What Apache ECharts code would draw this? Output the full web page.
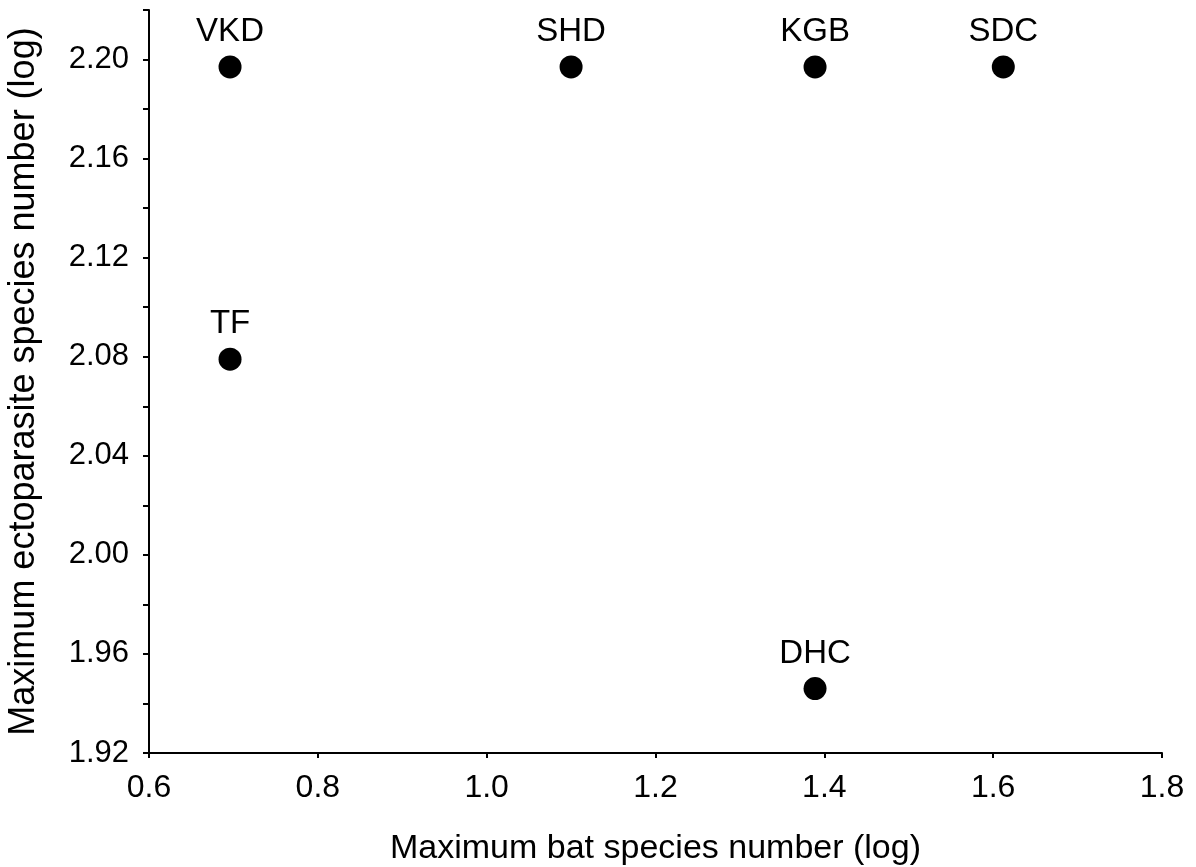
<!DOCTYPE html>
<html><head><meta charset="utf-8">
<script src="https://cdn.jsdelivr.net/npm/echarts@6/dist/echarts.min.js"></script>
<style>html,body{margin:0;padding:0;background:#fff}#c{width:1196px;height:867px}</style>
</head><body><div id="c"></div>
<script>
const sites = ["VKD", "SHD", "KGB", "SDC", "TF", "DHC"];
const batSpecies = [0.696, 1.100, 1.389, 1.612, 0.696, 1.389];
const ectoSpecies = [2.197, 2.197, 2.197, 2.197, 2.079, 1.946];
const xTitle = "Maximum bat species number (log)";
const yTitle = "Maximum ectoparasite species number (log)";

const data = sites.map((s, i) => ({ name: s, value: [batSpecies[i], ectoSpecies[i]] }));
const font = "Liberation Sans, Arial, sans-serif";
const chart = echarts.init(document.getElementById('c'));
chart.setOption({
  animation: false,
  grid: { left: 149, right: 34, top: 10, bottom: 114, containLabel: false, outerBoundsMode: 'none' },
  xAxis: {
    type: 'value', min: 0.6, max: 1.8, interval: 0.2,
    name: xTitle, nameLocation: 'middle', nameGap: 79,
    nameTextStyle: { fontFamily: font, fontSize: 34, color: '#000' },
    axisLine: { show: true, onZero: false, lineStyle: { color: '#000', width: 2 } },
    axisTick: { show: true, inside: false, length: 5, lineStyle: { color: '#000', width: 2 } },
    axisLabel: { fontFamily: font, fontSize: 32, color: '#000', margin: 19, formatter: v => v.toFixed(1) },
    splitLine: { show: false }
  },
  yAxis: {
    type: 'value', min: 1.92, max: 2.22, interval: 0.02,
    name: yTitle, nameLocation: 'middle', nameGap: 107,
    nameTextStyle: { fontFamily: font, fontSize: 36, color: '#000' },
    axisLine: { show: true, onZero: false, lineStyle: { color: '#000', width: 2 } },
    axisTick: { show: true, inside: false, length: 6, lineStyle: { color: '#000', width: 2 } },
    axisLabel: {
      fontFamily: font, fontSize: 31, color: '#000', margin: 20,
      formatter: v => (Math.round(v * 100) % 4 === 0 ? v.toFixed(2) : '')
    },
    splitLine: { show: false }
  },
  series: [{
    type: 'scatter',
    data: data,
    symbol: 'circle', symbolSize: 23,
    itemStyle: { color: '#000', opacity: 1 },
    label: {
      show: true, position: 'top', distance: 7,
      formatter: p => p.name,
      fontFamily: font, fontSize: 33, color: '#000'
    }
  }]
});
</script></body></html>
